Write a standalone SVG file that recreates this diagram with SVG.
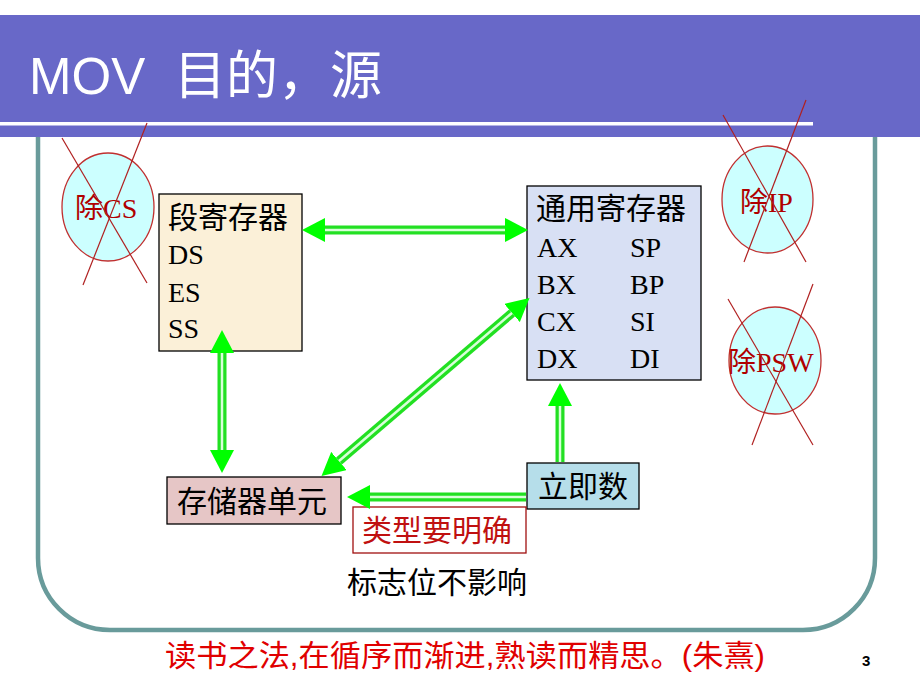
<svg xmlns="http://www.w3.org/2000/svg" width="920" height="690" viewBox="0 0 920 690">
<defs>
<style>
.cn{font-family:"Liberation Serif","Noto Sans CJK SC",serif;font-size:30px;fill:#000}
.lat{font-family:"Liberation Serif","Noto Sans CJK SC",serif;font-size:28px;fill:#000}
.red{fill:#B00000}
.cross{stroke:#B02020;stroke-width:1.2;fill:none}
.circ{fill:#CCFFFF;stroke:#C03030;stroke-width:1.3}
.box{stroke:#000;stroke-width:1.3}
.shaft{stroke:#22E022;stroke-width:9;fill:none}
.core{stroke:#D8FFD8;stroke-width:2.5;fill:none}
</style>
<marker id="ah" markerUnits="userSpaceOnUse" markerWidth="24" markerHeight="24" refX="0" refY="12" orient="auto-start-reverse" viewBox="0 0 24 24">
<path d="M0,0 L23,12 L0,24 Z" fill="#00FF00"/>
</marker>
</defs>
<rect width="920" height="690" fill="#fff"/>
<g id="header">
<rect x="0" y="15" width="920" height="122" fill="#6868C8"/>
<rect x="0" y="122" width="813" height="3.5" fill="#fff"/>
<text y="94" font-family="Liberation Sans,'Noto Sans CJK SC',sans-serif" fill="#fff"><tspan x="29" font-size="51">MOV</tspan><tspan x="174" font-size="52">目的，源</tspan></text>
</g>
<path id="frame" d="M38,137 V558 A72,72 0 0 0 110,630 H803 A72,72 0 0 0 875,558 V137" fill="none" stroke="#699B9B" stroke-width="4.5"/>
<g id="segreg">
<rect class="box" x="159" y="194" width="143" height="157" fill="#FBF0D8"/>
<text class="cn" x="168" y="228">段寄存器</text>
<text class="lat" x="168" y="264">DS</text>
<text class="lat" x="168" y="302">ES</text>
<text class="lat" x="168" y="338">SS</text>
</g>
<g id="genreg">
<rect class="box" x="527" y="186" width="174" height="194" fill="#D8E0F4"/>
<text class="cn" x="536" y="219">通用寄存器</text>
<text class="lat" x="537" y="257">AX</text><text class="lat" x="630" y="257">SP</text>
<text class="lat" x="537" y="294">BX</text><text class="lat" x="630" y="294">BP</text>
<text class="lat" x="537" y="331">CX</text><text class="lat" x="630" y="331">SI</text>
<text class="lat" x="537" y="368">DX</text><text class="lat" x="630" y="368">DI</text>
</g>
<g id="mem">
<rect class="box" x="167" y="477" width="174" height="47" fill="#E6C6C6"/>
<text class="cn" x="177" y="512">存储器单元</text>
</g>
<g id="imm">
<rect class="box" x="527" y="463" width="112" height="46" fill="#B6DEEA"/>
<text class="cn" x="538" y="497">立即数</text>
</g>
<g id="typenote">
<rect x="353" y="507" width="173" height="46" fill="#fff" stroke="#A01010" stroke-width="1.3"/>
<text class="cn" x="362" y="541" style="fill:#C01010">类型要明确</text>
</g>
<g id="flagnote">
<text class="cn" x="347" y="593">标志位不影响</text>
</g>
<g id="nocs">
<ellipse class="circ" cx="108" cy="207" rx="46" ry="54"/>
<text class="lat red" x="75" y="218">除CS</text>
<line class="cross" x1="62" y1="138" x2="147" y2="283"/>
<line class="cross" x1="147" y1="123" x2="83" y2="285"/>
</g>
<g id="noip">
<ellipse class="circ" cx="767.5" cy="199.5" rx="45.5" ry="53.5"/>
<text class="lat red" x="740" y="212">除IP</text>
<line class="cross" x1="723" y1="115" x2="806" y2="262"/>
<line class="cross" x1="806" y1="100" x2="744" y2="262"/>
</g>
<g id="nopsw">
<ellipse class="circ" cx="775" cy="360.5" rx="46" ry="53.5"/>
<text class="lat red" x="728" y="372">除PSW</text>
<line class="cross" x1="728" y1="299" x2="813" y2="445"/>
<line class="cross" x1="813" y1="284" x2="752" y2="445"/>
</g>
<g id="connectors">
<line class="shaft" x1="325" y1="230" x2="505" y2="230" marker-start="url(#ah)" marker-end="url(#ah)"/>
<line class="core" x1="325" y1="230" x2="505" y2="230"/>
<line class="shaft" x1="222" y1="353" x2="222" y2="450" marker-start="url(#ah)" marker-end="url(#ah)"/>
<line class="core" x1="222" y1="353" x2="222" y2="450"/>
<line class="shaft" x1="339" y1="461" x2="512" y2="313" marker-start="url(#ah)" marker-end="url(#ah)"/>
<line class="core" x1="339" y1="461" x2="512" y2="313"/>
<line class="shaft" x1="560" y1="462" x2="560" y2="406" marker-end="url(#ah)"/>
<line class="core" x1="560" y1="462" x2="560" y2="406"/>
<line class="shaft" x1="526" y1="497" x2="370" y2="497" marker-end="url(#ah)"/>
<line class="core" x1="526" y1="497" x2="370" y2="497"/>
</g>
<g id="footer">
<text x="165" y="666" font-family="Liberation Sans,'Noto Sans CJK SC',sans-serif" font-size="30" fill="#E00000" textLength="600" lengthAdjust="spacingAndGlyphs">读书之法,在循序而渐进,熟读而精思。(朱熹)</text>
<text x="862" y="666" font-family="Liberation Sans,sans-serif" font-size="15" font-weight="bold" fill="#000">3</text>
</g>
</svg>
